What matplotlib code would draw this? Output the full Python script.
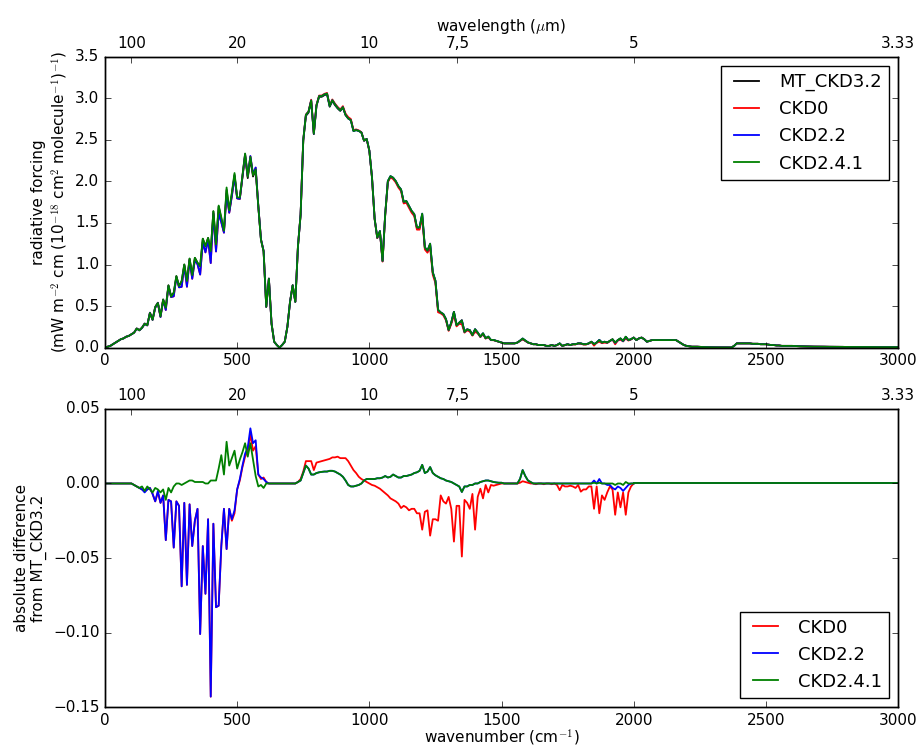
import numpy as np
import matplotlib
matplotlib.use("Agg")
import matplotlib.pyplot as plt

plt.style.use("classic")
plt.rcParams["font.size"] = 11
plt.rcParams["legend.fontsize"] = 13
plt.rcParams["lines.linewidth"] = 1.3

# wavenumber grid (cm^-1)
wn_full = np.arange(0, 3001, 10)
wn_diff = np.arange(0, 2001, 10)

# MT_CKD3.2 radiative forcing, 0..3000 step 10
mt_ckd32 = [
    0.00, 0.01, 0.02, 0.04, 0.06, 0.08, 0.10, 0.11, 0.13, 0.14,   # 0-90
    0.16, 0.18, 0.23, 0.21, 0.24, 0.29, 0.27, 0.42, 0.34, 0.49,   # 100-190
    0.54, 0.38, 0.58, 0.49, 0.75, 0.62, 0.66, 0.86, 0.74, 0.80,   # 200-290
    1.00, 0.80, 1.07, 0.87, 1.08, 1.02, 0.98, 1.31, 1.22, 1.32,   # 300-390
    1.16, 1.64, 1.24, 1.70, 1.55, 1.40, 1.90, 1.64, 1.85, 2.08,   # 400-490
    1.80, 1.79, 2.05, 2.31, 2.04, 2.27, 2.06, 2.14, 1.70, 1.30,   # 500-590
    1.16, 0.49, 0.83, 0.29, 0.07, 0.03, 0.00, 0.03, 0.07, 0.25,   # 600-690
    0.55, 0.75, 0.55, 1.22, 1.60, 2.49, 2.79, 2.83, 2.97, 2.57,   # 700-790
    2.91, 3.02, 3.02, 3.04, 3.05, 2.90, 2.97, 2.92, 2.88, 2.85,   # 800-890
    2.89, 2.80, 2.76, 2.74, 2.61, 2.62, 2.61, 2.59, 2.49, 2.51,   # 900-990
    2.37, 2.05, 1.55, 1.32, 1.40, 1.04, 1.60, 2.00, 2.06, 2.04,   # 1000-1090
    2.00, 1.94, 1.90, 1.75, 1.76, 1.70, 1.64, 1.60, 1.44, 1.44,   # 1100-1190
    1.60, 1.20, 1.16, 1.24, 0.90, 0.80, 0.45, 0.42, 0.40, 0.34,   # 1200-1290
    0.21, 0.30, 0.43, 0.27, 0.30, 0.33, 0.19, 0.22, 0.21, 0.15,   # 1300-1390
    0.22, 0.18, 0.13, 0.17, 0.11, 0.13, 0.09, 0.09, 0.08, 0.07,   # 1400-1490
    0.06, 0.05, 0.05, 0.05, 0.05, 0.05, 0.06, 0.08, 0.10, 0.08,   # 1500-1590
    0.06, 0.05, 0.04, 0.04, 0.03, 0.03, 0.03, 0.02, 0.02, 0.03,   # 1600-1690
    0.02, 0.03, 0.05, 0.02, 0.03, 0.04, 0.03, 0.04, 0.04, 0.05,   # 1700-1790
    0.05, 0.04, 0.04, 0.05, 0.07, 0.04, 0.06, 0.09, 0.06, 0.07,   # 1800-1890
    0.06, 0.08, 0.10, 0.06, 0.09, 0.11, 0.08, 0.13, 0.09, 0.10,   # 1900-1990
    0.12, 0.09, 0.11, 0.12, 0.10, 0.07, 0.08, 0.09, 0.09, 0.09,   # 2000-2090
    0.09, 0.09, 0.09, 0.09, 0.09, 0.09, 0.09, 0.07, 0.05, 0.03,   # 2100-2190
    0.02, 0.015, 0.01, 0.01, 0.01, 0.008, 0.006, 0.005, 0.004, 0.003,  # 2200-2290
    0.003, 0.002, 0.002, 0.002, 0.001, 0.001, 0.001, 0.001, 0.02, 0.05,  # 2300-2390
    0.05, 0.05, 0.05, 0.05, 0.05, 0.045, 0.045, 0.045, 0.04, 0.04,  # 2400-2490
    0.04, 0.035, 0.03, 0.03, 0.025, 0.025, 0.02, 0.02, 0.02, 0.02,  # 2500-2590
    0.02, 0.018, 0.016, 0.015, 0.014, 0.013, 0.012, 0.012, 0.011, 0.011,  # 2600-2690
    0.010, 0.010, 0.010, 0.009, 0.009, 0.009, 0.008, 0.008, 0.008, 0.008,  # 2700-2790
    0.007, 0.007, 0.007, 0.007, 0.007, 0.006, 0.006, 0.006, 0.006, 0.006,  # 2800-2890
    0.006, 0.005, 0.005, 0.005, 0.005, 0.005, 0.005, 0.005, 0.005, 0.005,  # 2900-2990
    0.005,                                                                # 3000
]

# differences (model - MT_CKD3.2), 0..2000 step 10; zero beyond 2000
diff_ckd0 = [
    0, 0, 0, 0, 0, 0, 0, 0, 0, 0,
    0, -0.001, -0.002, -0.003, -0.004, -0.005, -0.004, -0.003, -0.007, -0.012,
    -0.006, -0.013, -0.008, -0.038, -0.011, -0.012, -0.043, -0.012, -0.015, -0.069,
    -0.013, -0.068, -0.014, -0.042, -0.025, -0.017, -0.101, -0.042, -0.074, -0.024,
    -0.143, -0.027, -0.083, -0.082, -0.042, -0.017, -0.044, -0.017, -0.025, -0.020,
    -0.004, 0.002, 0.011, 0.018, 0.022, 0.033, 0.022, 0.025, 0.006, 0.003,
    0.004, 0.001, 0.0, 0, 0, 0, 0, 0, 0, 0,
    0, 0, 0, 0.001, 0.003, 0.008, 0.015, 0.015, 0.015, 0.009,
    0.014, 0.0145, 0.015, 0.0155, 0.016, 0.0165, 0.0175, 0.0175, 0.018, 0.017,
    0.017, 0.017, 0.015, 0.012, 0.009, 0.007, 0.0045, 0.003, 0.002, 0.001,
    0.0, -0.001, -0.0015, -0.0025, -0.0035, -0.005, -0.0065, -0.008, -0.010, -0.011,
    -0.012, -0.0135, -0.0165, -0.015, -0.016, -0.018, -0.017, -0.017, -0.020, -0.020,
    -0.031, -0.019, -0.018, -0.035, -0.024, -0.024, -0.025, -0.008, -0.012, -0.0135,
    -0.009, -0.017, -0.039, -0.015, -0.015, -0.049, -0.011, -0.013, -0.017, -0.007,
    -0.031, -0.009, -0.0035, -0.010, -0.001, -0.006, -0.001, -0.0015, -0.001, -0.0005,
    0, 0, 0, 0, 0, 0, 0, 0.0005, 0.0015, 0.001,
    0.0005, 0, 0, -0.0005, 0, 0, -0.0005, 0, 0, -0.0005,
    0, -0.001, -0.0045, -0.001, -0.002, -0.002, -0.0015, -0.002, -0.003, -0.001,
    -0.0055, -0.004, -0.004, -0.002, -0.002, -0.017, -0.002, -0.020, -0.008, -0.011,
    -0.006, -0.002, -0.004, -0.021, -0.006, -0.016, -0.006, -0.021, -0.006, -0.002,
    0.0,
]

diff_ckd22 = [
    0, 0, 0, 0, 0, 0, 0, 0, 0, 0,
    0, -0.001, -0.002, -0.003, -0.004, -0.006, -0.004, -0.003, -0.007, -0.012,
    -0.005, -0.013, -0.008, -0.038, -0.011, -0.012, -0.043, -0.012, -0.015, -0.069,
    -0.013, -0.068, -0.014, -0.042, -0.025, -0.017, -0.101, -0.042, -0.074, -0.024,
    -0.143, -0.027, -0.083, -0.082, -0.042, -0.017, -0.044, -0.017, -0.024, -0.018,
    -0.004, 0.003, 0.012, 0.020, 0.024, 0.037, 0.027, 0.029, 0.006, 0.004,
    0.003, 0.001, 0.0, 0, 0, 0, 0, 0, 0, 0,
    0, 0, 0, 0.001, 0.002, 0.007, 0.012, 0.010, 0.006, 0.006,
    0.007, 0.0075, 0.0078, 0.008, 0.008, 0.0085, 0.0085, 0.008, 0.007, 0.006,
    0.0045, 0.002, -0.001, -0.002, -0.002, -0.0015, -0.001, 0.0, 0.002, 0.003,
    0.003, 0.003, 0.003, 0.0035, 0.0035, 0.004, 0.005, 0.004, 0.0045, 0.006,
    0.005, 0.004, 0.004, 0.005, 0.005, 0.0055, 0.006, 0.007, 0.0075, 0.0085,
    0.0125, 0.007, 0.008, 0.011, 0.007, 0.0055, 0.0045, 0.0035, 0.003, 0.002,
    0.0015, 0.001, 0.0, -0.001, -0.002, -0.0057, -0.002, -0.002, -0.001, -0.001,
    0.0, 0.0, 0.001, 0.0015, 0.002, 0.002, 0.0015, 0.001, 0.0007, 0.0005,
    0.0005, 0, 0, 0, 0, 0, 0, 0.003, 0.009, 0.005,
    0.002, 0.001, 0, 0, 0, 0, 0, 0, 0, 0,
    0, 0, 0, 0, 0, 0, 0, 0, 0, 0,
    0, 0, 0, 0, 0, 0.002, 0, 0.003, 0, 0,
    -0.001, -0.001, -0.003, -0.004, -0.002, -0.003, -0.005, -0.003, -0.001, 0,
    0.0,
]

diff_ckd241 = [
    0, 0, 0, 0, 0, 0, 0, 0, 0, 0,
    0, -0.001, -0.002, -0.003, -0.002, -0.005, -0.002, -0.004, -0.006, -0.003,
    -0.004, -0.006, -0.004, -0.011, -0.003, -0.006, -0.002, 0.0, 0.0, -0.001,
    0.0, 0.001, 0.002, 0.002, 0.001, 0.001, 0.001, 0.001, 0.0, 0.0,
    0.002, 0.002, 0.002, 0.010, 0.019, 0.006, 0.028, 0.012, 0.017, 0.022,
    0.010, 0.016, 0.021, 0.027, 0.018, 0.027, 0.016, 0.005, -0.002, -0.001,
    -0.003, 0.0, 0.0, 0, 0, 0, 0, 0, 0, 0,
    0, 0, 0, 0.001, 0.002, 0.007, 0.012, 0.010, 0.006, 0.006,
    0.007, 0.0075, 0.0078, 0.008, 0.008, 0.0085, 0.0085, 0.008, 0.007, 0.006,
    0.0045, 0.002, -0.001, -0.002, -0.002, -0.0015, -0.001, 0.0, 0.002, 0.003,
    0.003, 0.003, 0.003, 0.0035, 0.0035, 0.004, 0.005, 0.004, 0.0045, 0.006,
    0.005, 0.004, 0.004, 0.005, 0.005, 0.0055, 0.006, 0.007, 0.0075, 0.0085,
    0.0125, 0.007, 0.008, 0.011, 0.007, 0.0055, 0.0045, 0.0035, 0.003, 0.002,
    0.0015, 0.001, 0.0, -0.001, -0.002, -0.0057, -0.002, -0.002, -0.001, -0.001,
    0.0, 0.0, 0.001, 0.0015, 0.002, 0.002, 0.0015, 0.001, 0.0007, 0.0005,
    0.0005, 0, 0, 0, 0, 0, 0, 0.003, 0.009, 0.005,
    0.002, 0.001, 0, 0, 0, 0, 0, 0, 0, 0,
    0, 0, 0, 0, 0, 0, 0, 0, 0, 0,
    0, 0, 0, 0, 0, 0.0005, 0, 0.0005, 0, 0,
    0, 0, 0, -0.001, 0, 0, -0.001, 0.001, 0, 0,
    0.0,
]

models = ["CKD0", "CKD2.2", "CKD2.4.1"]
model_colors = ["r", "b", "g"]
diffs = [diff_ckd0, diff_ckd22, diff_ckd241]

top_tick_wn = [100, 500, 1000, 1333.33, 2000, 3000]
top_tick_labels = ["100", "20", "10", "7,5", "5", "3.33"]

mt = np.array(mt_ckd32)
n_diff = len(wn_diff)

fig = plt.figure(figsize=(9.17, 7.49), dpi=100, facecolor="white")
ax1 = fig.add_axes([0.1145, 0.536, 0.8648, 0.388])
ax2 = fig.add_axes([0.1145, 0.056, 0.8648, 0.398])

ax1.plot(wn_full, mt, color="k", label="MT_CKD3.2")
for name, col, d in zip(models, model_colors, diffs):
    dfull = np.zeros_like(mt)
    dfull[:n_diff] = d
    ax1.plot(wn_full, mt + dfull, color=col, label=name)
    ax2.plot(wn_diff, d, color=col, label=name)
    ax2.plot(wn_full[n_diff - 1:], np.zeros(len(wn_full) - n_diff + 1), color=col)

ax1.set_xlim(0, 3000)
ax1.set_ylim(0, 3.5)
ax2.set_xlim(0, 3000)
ax2.set_ylim(-0.15, 0.05)
ax2.set_yticks([-0.15, -0.10, -0.05, 0.00, 0.05])

ax1.set_ylabel("radiative forcing\n(mW m$^{-2}$ cm (10$^{-18}$ cm$^2$ molecule$^{-1}$)$^{-1}$)",
               labelpad=4)
ax2.set_ylabel("absolute difference\nfrom MT_CKD3.2", labelpad=4)
ax2.set_xlabel("wavenumber (cm$^{-1}$)", labelpad=0)

ax1.legend(loc="upper right")
ax2.legend(loc="lower right")

for i, ax in enumerate([ax1, ax2]):
    tw = ax.twiny()
    tw.set_xlim(ax.get_xlim())
    tw.set_xticks(top_tick_wn)
    tw.set_xticklabels(top_tick_labels)
    if i == 0:
        tw.set_xlabel("wavelength ($\\mu$m)", labelpad=4)

fig.savefig("out.png", dpi=100, facecolor="white")
